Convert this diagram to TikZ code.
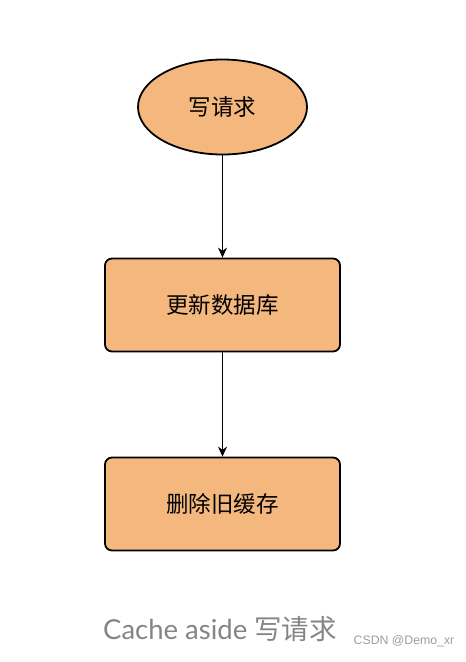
\documentclass[tikz,border=0pt]{standalone}
\usepackage{fontspec}
\setmainfont{Lato}
\newfontfamily\cjk{Noto Sans CJK SC}
\newfontfamily\wmfont{Liberation Sans}
\usetikzlibrary{shapes.geometric,arrows.meta}
\definecolor{boxfill}{HTML}{F4B77E}
\definecolor{capgray}{HTML}{858585}
\tikzset{
  stepbox/.style={draw=black, line width=1.8pt, fill=boxfill, rounded corners=7pt,
    minimum width=235pt, minimum height=93pt, font=\cjk\fontsize{22.5}{26}\selectfont},
  startnode/.style={ellipse, draw=black, line width=1.8pt, fill=boxfill,
    minimum width=169pt, minimum height=95pt, font=\cjk\fontsize{22.5}{26}\selectfont},
  flow/.style={-{Stealth[length=10pt,width=9pt]}, line width=1.1pt}
}

\begin{document}
\begin{tikzpicture}[x=1pt,y=-1pt]
\useasboundingbox (0,0) rectangle (466,662);
\node[startnode] (req) at (222.5,107) {写请求};
\node[stepbox] (db) at (222.5,305) {更新数据库};
\node[stepbox] (cache) at (222.5,504) {删除旧缓存};
\draw[flow] (req) -- (db);
\draw[flow] (db) -- (cache);
\node[text=capgray, font=\fontsize{27.5}{30}\selectfont] (cap) at (220,629) {Cache aside {\cjk 写请求}};
\node[text=capgray!80, font=\wmfont\fontsize{12.3}{14}\selectfont] (wm) at (404,641) {CSDN @Demo\_xr};
\end{tikzpicture}
\end{document}
